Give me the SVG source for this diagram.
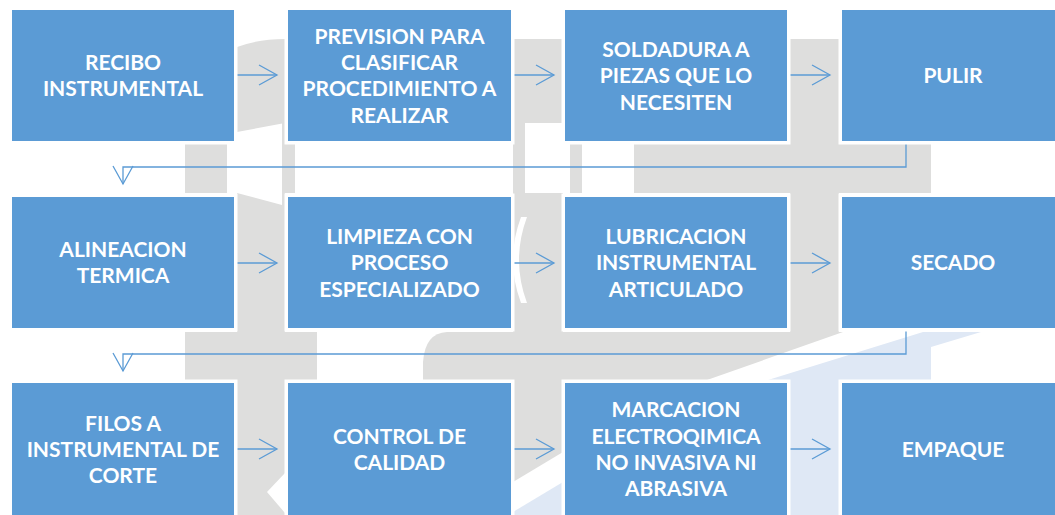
<svg xmlns="http://www.w3.org/2000/svg" width="1055" height="515" viewBox="0 0 1055 515">
<defs>
<style>
.bg{fill:#DEDEDD}
.lb{fill:#DFE8F5}
.wh{fill:#FFFFFF}
.box{fill:#5B9BD5;stroke:#FFFFFF;stroke-width:7;paint-order:stroke}
.t{font-family:Lato,"Liberation Sans",sans-serif;font-weight:bold;font-size:21px;fill:#FFFFFF;text-anchor:middle}
.c{fill:none;stroke:#5B9BD5;stroke-width:1.3}
</style>
<marker id="ah" markerUnits="userSpaceOnUse" markerWidth="22" markerHeight="24" refX="18" refY="11" orient="auto" overflow="visible">
<path d="M0,1 L18,11 L0,21" fill="none" stroke="#5B9BD5" stroke-width="1.3"/>
</marker>
</defs>
<rect width="1055" height="515" fill="#FFFFFF"/>
<g id="watermark">
<path class="bg" d="M237,47 Q258,39 285,39 L285,123 L237,132 Z"/>
<rect class="bg" x="282" y="123" width="3" height="74"/>
<rect class="bg" x="185" y="144" width="42" height="49"/>
<rect class="bg" x="282" y="144" width="13" height="49"/>
<rect class="bg" x="237" y="193" width="48" height="140"/>
<path class="wh" d="M237,193 L282,193 L282,205 Z"/>
<rect class="bg" x="185" y="332" width="132" height="48"/>
<rect class="bg" x="237" y="378" width="48" height="137"/>
<path class="wh" d="M285,473 L267,492 L285,513 Z"/>
<rect class="bg" x="513" y="39" width="50" height="84"/>
<rect class="bg" x="513" y="123" width="12" height="74"/>
<rect class="bg" x="570" y="144" width="12" height="49"/>
<rect class="bg" x="513" y="193" width="50" height="140"/>
<path class="wh" d="M527,217 Q511,260 527,303 L521,303 Q505,260 521,217 Z"/>
<path class="bg" d="M513,378 L563,378 L563,452 L513,482 Z"/>
<path class="lb" d="M513,512 L563,482 L563,515 L513,515 Z"/>
<rect class="bg" x="790" y="39" width="49" height="294"/>
<rect class="bg" x="634" y="144" width="297" height="49"/>
<path class="bg" d="M423,380 L423,362 Q425,333 447,332 L843,332 L707,380 Z"/>
<path class="lb" d="M923,332 L981,332 L931,347 L931,380 L768,380 Z"/>
<rect class="lb" x="790" y="378" width="49" height="137"/>
</g>
<g id="connectors">
<path class="c" d="M237,75 H277" marker-end="url(#ah)"/>
<path class="c" d="M514,75 H554" marker-end="url(#ah)"/>
<path class="c" d="M790,75 H830" marker-end="url(#ah)"/>
<path class="c" d="M906,144 V167 H123 V184" marker-end="url(#ah)"/>
<path class="c" d="M237,263 H277" marker-end="url(#ah)"/>
<path class="c" d="M514,263 H554" marker-end="url(#ah)"/>
<path class="c" d="M790,263 H830" marker-end="url(#ah)"/>
<path class="c" d="M906,331 V354 H123 V371" marker-end="url(#ah)"/>
<path class="c" d="M237,449 H277" marker-end="url(#ah)"/>
<path class="c" d="M514,449 H554" marker-end="url(#ah)"/>
<path class="c" d="M790,449 H830" marker-end="url(#ah)"/>
</g>
<g id="n1"><rect class="box" x="12" y="10" width="222" height="131"/>
<text class="t"><tspan x="123" y="70">RECIBO</tspan><tspan x="123" y="96.4">INSTRUMENTAL</tspan></text></g>
<g id="n2"><rect class="box" x="288" y="10" width="223" height="131"/>
<text class="t"><tspan x="399.5" y="43.8">PREVISION PARA</tspan><tspan x="399.5" y="70.1">CLASIFICAR</tspan><tspan x="399.5" y="96.4">PROCEDIMIENTO A</tspan><tspan x="399.5" y="122.7">REALIZAR</tspan></text></g>
<g id="n3"><rect class="box" x="565" y="10" width="222" height="131"/>
<text class="t"><tspan x="676" y="57">SOLDADURA A</tspan><tspan x="676" y="83.3">PIEZAS QUE LO</tspan><tspan x="676" y="109.6">NECESITEN</tspan></text></g>
<g id="n4"><rect class="box" x="842" y="10" width="222" height="131"/>
<text class="t"><tspan x="953" y="83.3">PULIR</tspan></text></g>
<g id="n5"><rect class="box" x="12" y="197" width="222" height="131"/>
<text class="t"><tspan x="123" y="257.1">ALINEACION</tspan><tspan x="123" y="283.4">TERMICA</tspan></text></g>
<g id="n6"><rect class="box" x="288" y="197" width="223" height="131"/>
<text class="t"><tspan x="399.5" y="244">LIMPIEZA CON</tspan><tspan x="399.5" y="270.3">PROCESO</tspan><tspan x="399.5" y="296.6">ESPECIALIZADO</tspan></text></g>
<g id="n7"><rect class="box" x="565" y="197" width="222" height="131"/>
<text class="t"><tspan x="676" y="244">LUBRICACION</tspan><tspan x="676" y="270.3">INSTRUMENTAL</tspan><tspan x="676" y="296.6">ARTICULADO</tspan></text></g>
<g id="n8"><rect class="box" x="842" y="197" width="222" height="131"/>
<text class="t"><tspan x="953" y="270.3">SECADO</tspan></text></g>
<g id="n9"><rect class="box" x="12" y="383" width="222" height="140"/>
<text class="t"><tspan x="123" y="430.5">FILOS A</tspan><tspan x="123" y="456.8">INSTRUMENTAL DE</tspan><tspan x="123" y="483.1">CORTE</tspan></text></g>
<g id="n10"><rect class="box" x="288" y="383" width="223" height="140"/>
<text class="t"><tspan x="399.5" y="443.6">CONTROL DE</tspan><tspan x="399.5" y="469.9">CALIDAD</tspan></text></g>
<g id="n11"><rect class="box" x="565" y="383" width="222" height="140"/>
<text class="t"><tspan x="676" y="417.3">MARCACION</tspan><tspan x="676" y="443.6">ELECTROQIMICA</tspan><tspan x="676" y="469.9">NO INVASIVA NI</tspan><tspan x="676" y="496.2">ABRASIVA</tspan></text></g>
<g id="n12"><rect class="box" x="842" y="383" width="222" height="140"/>
<text class="t"><tspan x="953" y="456.8">EMPAQUE</tspan></text></g>
</svg>
